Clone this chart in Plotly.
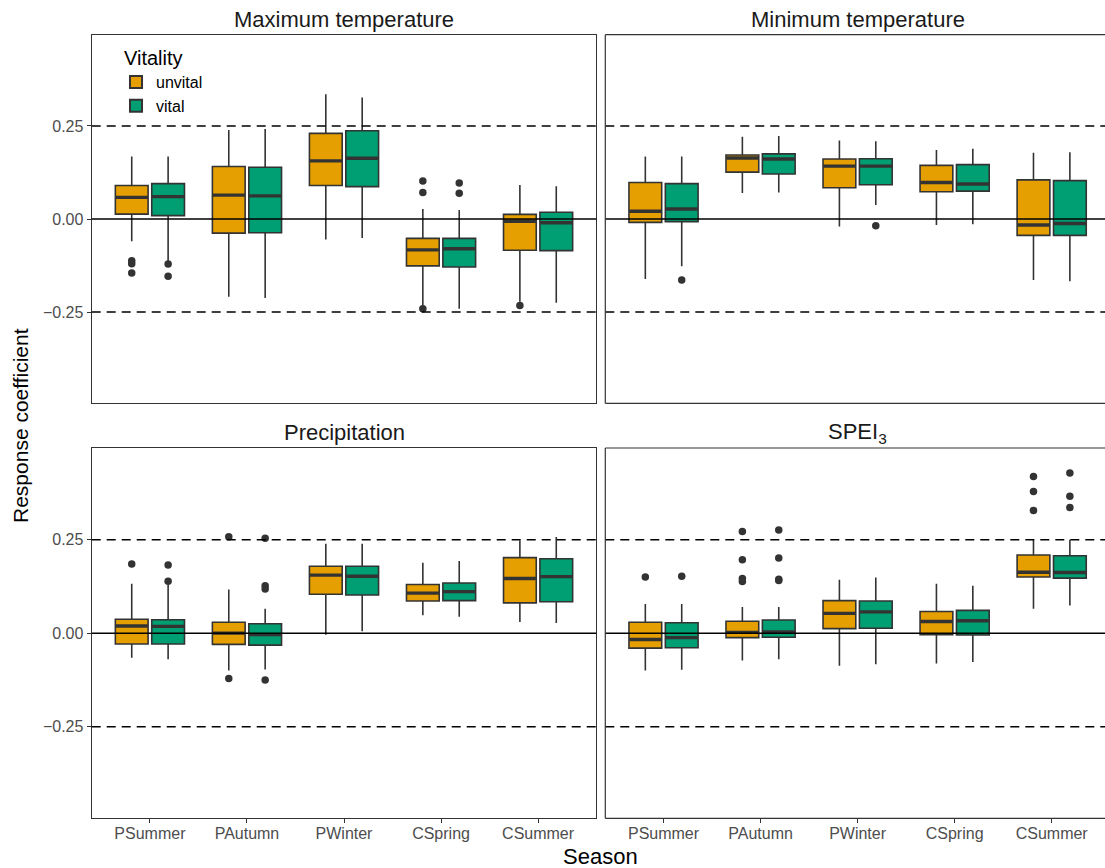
import plotly.graph_objects as go

# ---------------- data ----------------
seasons = ["PSummer", "PAutumn", "PWinter", "CSpring", "CSummer"]
groups = ["unvital", "vital"]
panel_titles = ["Maximum temperature", "Minimum temperature", "Precipitation", "SPEI<sub>3</sub>"]

# per season: (lower whisker, Q1, median, Q3, upper whisker)
tmax_unvital = [(-0.060, 0.013, 0.058, 0.090, 0.168), (-0.209, -0.038, 0.064, 0.141, 0.239),
                (-0.055, 0.090, 0.156, 0.230, 0.335), (-0.232, -0.126, -0.083, -0.052, 0.027),
                (-0.222, -0.084, -0.006, 0.0125, 0.091)]
tmax_vital = [(-0.114, 0.009, 0.060, 0.095, 0.168), (-0.212, -0.037, 0.062, 0.139, 0.242),
              (-0.051, 0.087, 0.163, 0.237, 0.326), (-0.241, -0.129, -0.080, -0.052, 0.024),
              (-0.225, -0.085, -0.010, 0.018, 0.088)]
tmin_unvital = [(-0.161, -0.009, 0.021, 0.098, 0.168), (0.070, 0.126, 0.164, 0.172, 0.221),
                (-0.020, 0.084, 0.142, 0.161, 0.211), (-0.016, 0.073, 0.098, 0.144, 0.185),
                (-0.164, -0.044, -0.016, 0.105, 0.178)]
tmin_vital = [(-0.127, -0.007, 0.027, 0.095, 0.168), (0.071, 0.121, 0.161, 0.175, 0.223),
              (0.0375, 0.092, 0.142, 0.162, 0.209), (-0.014, 0.075, 0.094, 0.146, 0.189),
              (-0.167, -0.044, -0.012, 0.103, 0.179)]
prec_unvital = [(-0.066, -0.029, 0.019, 0.037, 0.132), (-0.100, -0.030, 0.000, 0.029, 0.117),
                (-0.004, 0.104, 0.155, 0.179, 0.239), (0.048, 0.086, 0.107, 0.130, 0.188),
                (0.030, 0.081, 0.146, 0.202, 0.248)]
prec_vital = [(-0.070, -0.029, 0.018, 0.036, 0.129), (-0.097, -0.032, -0.004, 0.025, 0.065),
              (0.005, 0.102, 0.152, 0.179, 0.239), (0.044, 0.087, 0.111, 0.134, 0.193),
              (0.027, 0.084, 0.151, 0.199, 0.257)]
spei_unvital = [(-0.100, -0.040, -0.017, 0.029, 0.078), (-0.073, -0.012, 0.002, 0.032, 0.070),
                (-0.087, 0.012, 0.053, 0.087, 0.143), (-0.081, -0.004, 0.031, 0.058, 0.132),
                (0.065, 0.150, 0.163, 0.209, 0.250)]
spei_vital = [(-0.098, -0.039, -0.012, 0.028, 0.078), (-0.070, -0.011, 0.003, 0.035, 0.070),
              (-0.083, 0.013, 0.057, 0.086, 0.149), (-0.077, -0.005, 0.033, 0.061, 0.127),
              (0.074, 0.147, 0.162, 0.207, 0.250)]

# outliers: (season index, value)
tmax_unvital_out = [(0, -0.112), (0, -0.120), (0, -0.145), (3, 0.102), (3, 0.071), (3, -0.241), (4, -0.232)]
tmax_vital_out = [(0, -0.121), (0, -0.154), (3, 0.097), (3, 0.069)]
tmin_unvital_out = []
tmin_vital_out = [(0, -0.164), (2, -0.018)]
prec_unvital_out = [(0, 0.185), (1, 0.258), (1, -0.121)]
prec_vital_out = [(0, 0.182), (0, 0.139), (1, 0.254), (1, 0.127), (1, 0.118), (1, -0.125)]
spei_unvital_out = [(0, 0.150), (1, 0.272), (1, 0.196), (1, 0.146), (1, 0.138),
                    (4, 0.419), (4, 0.379), (4, 0.328)]
spei_vital_out = [(0, 0.152), (1, 0.276), (1, 0.201), (1, 0.144), (1, 0.141),
                  (4, 0.428), (4, 0.366), (4, 0.336)]

panels = [
    (tmax_unvital, tmax_vital, tmax_unvital_out, tmax_vital_out),
    (tmin_unvital, tmin_vital, tmin_unvital_out, tmin_vital_out),
    (prec_unvital, prec_vital, prec_unvital_out, prec_vital_out),
    (spei_unvital, spei_vital, spei_unvital_out, spei_vital_out),
]

# ---------------- style ----------------
W, H = 1105, 868
FONT = "Liberation Sans, Arial, Helvetica, sans-serif"
colors = {"unvital": "#E69F00", "vital": "#009E73"}
OUTLINE = "#333333"
dodge = 0.1875
box_w = 0.3375

# panel pixel boxes (left, right, top, bottom); right panels run past the canvas edge
px = [(91.7, 596.3, 34.7, 403.3), (605.3, 1109.9, 34.7, 403.3),
      (91.7, 596.3, 448.0, 818.3), (605.3, 1109.9, 448.0, 818.3)]
unit_px = (596.3 - 91.7) / 5.2
VIS_RIGHT = float(W)   # visible right end of the right-hand subplots (px)

fig = go.Figure()

for p, (uv, vv, uo, vo) in enumerate(panels):
    ax = "" if p == 0 else str(p + 1)
    xref, yref = "x" + ax, "y" + ax
    for g, stats, outs in (("unvital", uv, uo), ("vital", vv, vo)):
        off = -dodge if g == "unvital" else dodge
        xs = [i + 1 + off for i in range(len(seasons))]
        fig.add_trace(go.Box(
            x=xs,
            lowerfence=[s[0] for s in stats], q1=[s[1] for s in stats],
            median=[s[2] for s in stats], q3=[s[3] for s in stats],
            upperfence=[s[4] for s in stats],
            width=box_w, whiskerwidth=0,
            fillcolor=colors[g], line=dict(color=OUTLINE, width=1.6),
            name=g, legendgroup=g, showlegend=(p == 0),
            boxpoints=False, hoverinfo="skip",
            xaxis=xref, yaxis=yref,
        ))
        # thicker median bar (ggplot fatten)
        mx, my = [], []
        for i, s in enumerate(stats):
            mx += [i + 1 + off - box_w / 2 + 0.005, i + 1 + off + box_w / 2 - 0.005, None]
            my += [s[2], s[2], None]
        fig.add_trace(go.Scatter(x=mx, y=my, mode="lines", line=dict(color=OUTLINE, width=3.4),
                                 showlegend=False, hoverinfo="skip", xaxis=xref, yaxis=yref))
        if outs:
            fig.add_trace(go.Scatter(
                x=[o[0] + 1 + off for o in outs], y=[o[1] for o in outs], mode="markers",
                marker=dict(color=OUTLINE, size=7.5), showlegend=False, hoverinfo="skip",
                xaxis=xref, yaxis=yref))

layout = dict(
    width=W, height=H, margin=dict(l=0, r=0, t=0, b=0),
    paper_bgcolor="white", plot_bgcolor="white",
    font=dict(family=FONT, color="black"),
    showlegend=True,
    legend=dict(x=122 / W, y=1 - 39 / H, xanchor="left", yanchor="top", indentation=-6,
                bgcolor="rgba(0,0,0,0)", font=dict(size=16, color="black"),
                title=dict(text="Vitality", font=dict(size=20, color="black")),
                tracegroupgap=0, itemsizing="constant"),
)

for p in range(4):
    ax = "" if p == 0 else str(p + 1)
    l, r, t, b = px[p]
    bottom = p >= 2
    left = p % 2 == 0
    r_vis = r if left else VIS_RIGHT
    layout["xaxis" + ax] = dict(
        domain=[l / W, r_vis / W], range=[0.4, 0.4 + (r_vis - l) / unit_px],
        anchor="y" + ax, tickmode="array", tickvals=[1, 2, 3, 4, 5], ticktext=seasons,
        showticklabels=bottom, ticks="outside" if bottom else "", ticklen=4, tickwidth=1.1,
        tickcolor=OUTLINE, tickfont=dict(size=16, color="#4D4D4D"), ticklabelstandoff=-4,
        showgrid=False, zeroline=False, showline=left, linecolor=OUTLINE, linewidth=1.2,
        mirror=left, fixedrange=True,
    )
    layout["yaxis" + ax] = dict(
        domain=[1 - b / H, 1 - t / H], range=[-0.495, 0.495], anchor="x" + ax,
        tickmode="array", tickvals=[-0.25, 0, 0.25], ticktext=["\u22120.25", "0.00", "0.25"],
        showticklabels=left, ticks="outside" if left else "", ticklen=4, tickwidth=1.1,
        tickcolor=OUTLINE, tickfont=dict(size=16, color="#4D4D4D"),
        showgrid=False, zeroline=False, showline=left, linecolor=OUTLINE, linewidth=1.2,
        mirror=left, fixedrange=True,
    )
    # reference lines (above boxes), running to the panel edge
    for yv, dash in ((0.25, "9px,6px"), (-0.25, "9px,6px"), (0.0, "solid")):
        fig.add_shape(type="line", xref=layout["xaxis" + ax]["anchor"].replace("y", "x") + " domain",
                      yref="y" + ax, x0=0, x1=1, y0=yv, y1=yv,
                      line=dict(color="black", width=1.5, dash=dash), layer="above")
    if not left:
        # frame of the right-hand panels: their right border lies beyond the canvas edge
        bl = dict(color=OUTLINE, width=1.2)
        fig.add_shape(type="line", xref="paper", yref="paper", x0=l / W, x1=l / W,
                      y0=1 - b / H, y1=1 - t / H, line=bl, layer="above")
        for yy in (t, b):
            fig.add_shape(type="line", xref="paper", yref="paper", x0=l / W, x1=r / W,
                          y0=1 - yy / H, y1=1 - yy / H, line=bl, layer="above")

fig.update_layout(**layout)

# strip titles
for p, title in enumerate(panel_titles):
    l, r, t, b = px[p]
    fig.add_annotation(text=title, x=(l + r) / 2 / W, y=1 - (t - 15.5) / H, xref="paper", yref="paper",
                       showarrow=False, xanchor="center", yanchor="middle",
                       font=dict(size=22, color="#1A1A1A"))

# axis titles
fig.add_annotation(text="Season", x=(91.7 + 1109.9) / 2 / W, y=1 - 856 / H,
                   xref="paper", yref="paper", showarrow=False, xanchor="center", yanchor="middle",
                   font=dict(size=22, color="black"))
fig.add_annotation(text="Response coefficient", x=20 / W, y=1 - 426 / H, xref="paper", yref="paper",
                   showarrow=False, textangle=-90, xanchor="center", yanchor="middle",
                   font=dict(size=21, color="black"))

fig.write_html("out.html")
